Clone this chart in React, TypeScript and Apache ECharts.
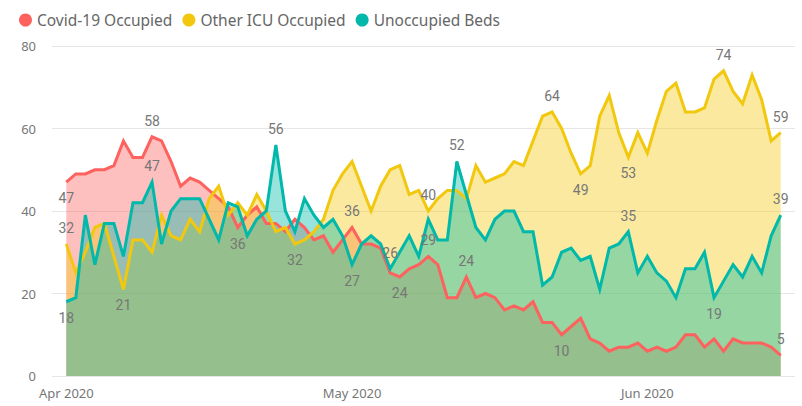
import React, { useEffect, useRef } from "react";
import * as echarts from "echarts";

// Daily ICU bed occupancy, 1 Apr 2020 – 15 Jun 2020
const seriesNames = ["Covid-19 Occupied", "Other ICU Occupied", "Unoccupied Beds"];
const seriesColors = ["#FD625E", "#F2C80F", "#01B8AA"];

const covidOccupied = [
  47, 49, 49, 50, 50, 51, 57, 53, 53, 58, 57, 52, 46, 48, 47, 45, 43, 41, 36, 39,
  41, 37, 37, 35, 38, 36, 33, 34, 30, 33, 36, 32, 32, 31, 25, 24, 26, 27, 29, 27,
  19, 19, 24, 19, 20, 19, 16, 17, 16, 18, 13, 13, 10, 12, 14, 9, 8, 6, 7, 7,
  8, 6, 7, 6, 7, 10, 10, 7, 9, 6, 9, 8, 8, 8, 7, 5,
];

const otherIcuOccupied = [
  32, 25, 30, 36, 37, 29, 21, 33, 33, 30, 39, 34, 33, 38, 35, 43, 46, 39, 42, 39,
  44, 40, 35, 36, 32, 33, 35, 38, 45, 49, 52, 46, 40, 46, 50, 51, 44, 45, 40, 43,
  45, 45, 43, 51, 47, 48, 49, 52, 51, 57, 63, 64, 60, 54, 49, 51, 63, 68, 59, 53,
  59, 54, 62, 69, 71, 64, 64, 65, 72, 74, 69, 66, 73, 67, 57, 59,
];

const unoccupiedBeds = [
  18, 19, 39, 27, 37, 37, 29, 42, 42, 47, 32, 40, 43, 43, 43, 38, 33, 42, 41, 34,
  38, 40, 56, 40, 35, 43, 39, 36, 38, 34, 27, 32, 34, 32, 26, 30, 34, 29, 38, 33,
  33, 52, 44, 36, 33, 38, 40, 40, 35, 35, 22, 24, 30, 31, 28, 29, 21, 31, 32, 35,
  25, 29, 25, 23, 19, 26, 26, 30, 19, 23, 27, 24, 29, 25, 34, 39,
];

const monthNames = ["Jan", "Feb", "Mar", "Apr", "May", "Jun", "Jul", "Aug", "Sep", "Oct", "Nov", "Dec"];

// Which days carry a value label, and on which side of the line it sits
const labelPlacement: Record<number, string>[] = [
  { 0: "bottom", 9: "top", 18: "bottom", 30: "top", 35: "bottom", 38: "top", 42: "top", 52: "bottom", 75: "top" },
  { 0: "top", 6: "bottom", 24: "bottom", 38: "top", 51: "top", 54: "bottom", 59: "bottom", 69: "top", 75: "top" },
  { 0: "bottom", 9: "top", 22: "top", 30: "bottom", 34: "top", 41: "top", 59: "top", 68: "bottom", 75: "top" },
];

const DAY = 86400000;
const dayStamps = covidOccupied.map((_, i) => new Date(2020, 3, 1 + i).getTime());

export default function App() {
  const ref = useRef<HTMLDivElement>(null);

  useEffect(() => {
    if (!ref.current) return;
    const chart = echarts.init(ref.current, null, { renderer: "svg" });
    const allValues = [covidOccupied, otherIcuOccupied, unoccupiedBeds];

    // Translucent fills first, so every outline sits above every fill
    const areaSeries = allValues.map((vals, k) => ({
      name: seriesNames[k],
      type: "line",
      data: vals.map((v, i) => [dayStamps[i], v]),
      symbol: "none",
      showSymbol: false,
      color: seriesColors[k],
      lineStyle: { width: 0, opacity: 0 },
      areaStyle: { color: seriesColors[k], opacity: 0.4 },
      silent: true,
      z: 1,
    }));

    const lineSeries = allValues.map((vals, k) => ({
      name: seriesNames[k],
      type: "line",
      data: vals.map((v, i) => {
        const pos = labelPlacement[k][i];
        return pos
          ? { value: [dayStamps[i], v], label: { show: true, position: pos } }
          : { value: [dayStamps[i], v] };
      }),
      symbol: "circle",
      symbolSize: 0.1,
      showSymbol: true,
      color: seriesColors[k],
      itemStyle: { color: seriesColors[k] },
      lineStyle: { width: 3, color: seriesColors[k], join: "miter" },
      label: {
        show: false,
        distance: 9,
        color: "#777777",
        fontSize: 14,
        fontFamily: "Roboto",
        formatter: (p: any) => String(p.value[1]),
      },
      z: 3,
    }));

    chart.setOption({
      animation: false,
      backgroundColor: "#ffffff",
      legend: {
        data: seriesNames,
        top: 7,
        left: 14,
        icon: "circle",
        itemWidth: 13,
        itemHeight: 13,
        itemGap: 10,
        textStyle: { color: "#666666", fontSize: 15.5, fontFamily: "Noto Sans" },
      },
      grid: { left: 52, right: 7, top: 46, bottom: 30 },
      xAxis: {
        type: "time",
        min: dayStamps[0] - 1.5 * DAY,
        max: dayStamps[dayStamps.length - 1] + 1.5 * DAY,
        splitNumber: 3,
        axisLine: { show: false },
        axisTick: { show: false },
        splitLine: { show: false },
        axisLabel: {
          color: "#777777",
          fontSize: 13,
          fontFamily: "Noto Sans",
          margin: 10,
          formatter: (val: number) => {
            const d = new Date(val);
            return d.getDate() === 1 ? `${monthNames[d.getMonth()]} ${d.getFullYear()}` : "";
          },
        },
      },
      yAxis: {
        type: "value",
        min: 0,
        max: 80,
        interval: 20,
        axisLine: { show: false },
        axisTick: { show: false },
        axisLabel: { color: "#777777", fontSize: 13, fontFamily: "Noto Sans", margin: 16 },
        splitLine: { lineStyle: { color: "#e6e6e6", width: 1 } },
      },
      series: [...areaSeries, ...lineSeries],
    });

    return () => chart.dispose();
  }, []);

  return (
    <div
      ref={ref}
      style={{ position: "fixed", left: 0, top: 0, width: 802, height: 406 }}
    />
  );
}
